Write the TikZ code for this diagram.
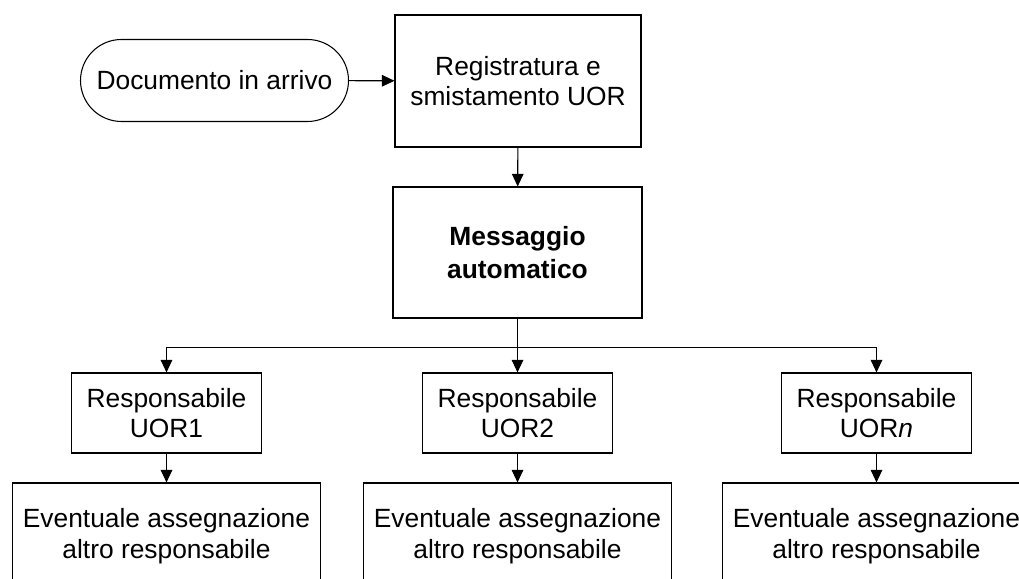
\documentclass[tikz,border=0pt]{standalone}
\usepackage{fontspec}
\setmainfont{Liberation Sans}
\usetikzlibrary{arrows.meta}

\begin{document}
\begin{tikzpicture}[
  box/.style={draw, line width=0.6pt, align=center, inner sep=2pt,
    font=\fontsize{15}{17.5}\selectfont},
  arr/.style={-{Triangle[length=0.25cm,width=0.23cm]}, line width=0.6pt}]
\clip (0,0) rectangle (20.38,11.58);
\node [box, rounded corners=0.82cm, minimum width=5.36cm, minimum height=1.64cm] (doc) at (4.29,9.97) {Documento in arrivo};
\node [box, minimum width=4.92cm, minimum height=2.64cm] (reg) at (10.36,9.96) {Registratura e\\smistamento UOR};
\node [box, minimum width=4.98cm, minimum height=2.62cm, font=\fontsize{15}{18.5}\selectfont\bfseries] (msg) at (10.35,6.53) {Messaggio\\automatico};
\node [box, minimum width=3.8cm, minimum height=1.6cm] (resp1) at (3.33,3.32) {Responsabile\\UOR1};
\node [box, minimum width=3.8cm, minimum height=1.6cm] (resp2) at (10.35,3.32) {Responsabile\\UOR2};
\node [box, minimum width=3.8cm, minimum height=1.6cm] (respn) at (17.53,3.32) {Responsabile\\UOR\textit{n}};
\node [box, minimum width=6.16cm, minimum height=2.12cm] (ass1) at (3.33,0.86) {Eventuale assegnazione\\altro responsabile};
\node [box, minimum width=6.16cm, minimum height=2.12cm] (ass2) at (10.35,0.86) {Eventuale assegnazione\\altro responsabile};
\node [box, minimum width=6.16cm, minimum height=2.12cm] (assn) at (17.53,0.86) {Eventuale assegnazione\\altro responsabile};
\coordinate (bus) at (10.35,4.63);
\draw [arr] (doc) -- (reg);
\draw [arr] (reg) -- (msg);
\draw [arr] (msg) -- (resp2);
\draw [arr] (bus) -| (resp1);
\draw [arr] (bus) -| (respn);
\draw [arr] (resp1) -- (ass1);
\draw [arr] (resp2) -- (ass2);
\draw [arr] (respn) -- (assn);
\end{tikzpicture}
\end{document}
